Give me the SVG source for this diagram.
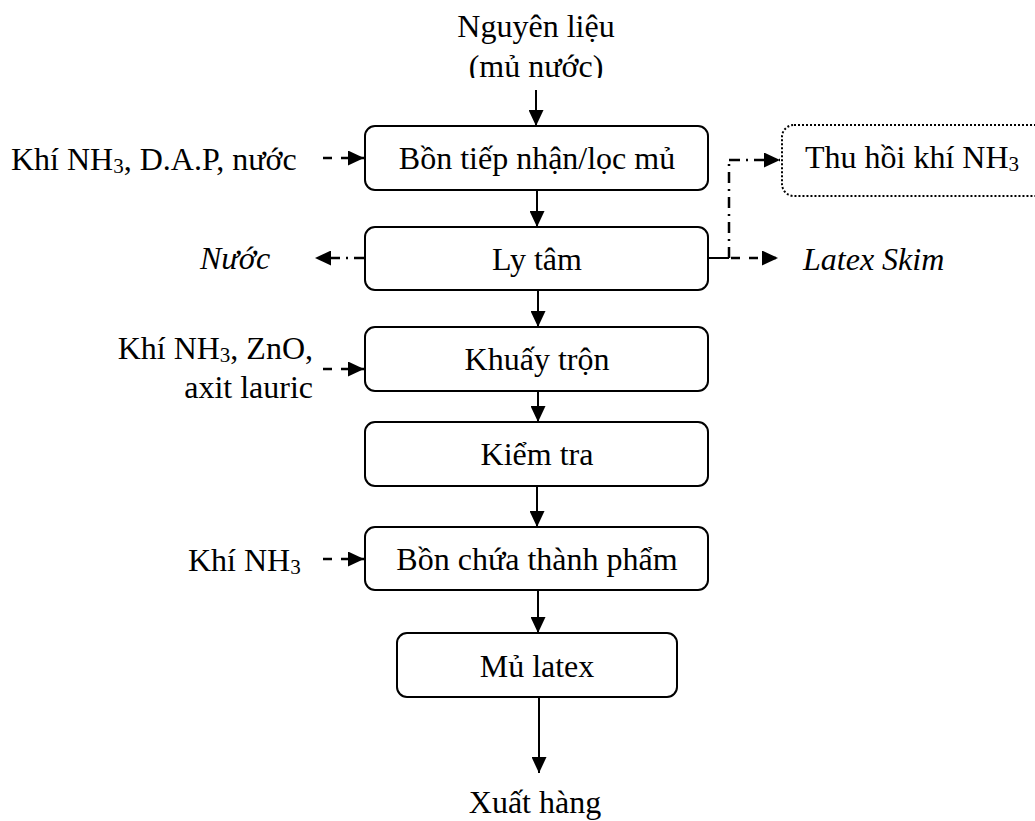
<svg xmlns="http://www.w3.org/2000/svg" width="1035" height="821" viewBox="0 0 1035 821">
  <style>
    text { font-family: "Liberation Serif", "Times New Roman", serif; font-size: 32px; fill: #000; }
    .c { text-anchor: middle; }
    .r { text-anchor: end; }
    .i { font-style: italic; }
    .sub { font-size: 21px; }
    .box { fill: #fff; stroke: #000; stroke-width: 2; }
    .dotbox { fill: #fff; stroke: #000; stroke-width: 2; stroke-dasharray: 2 2; }
    .flow { fill: none; stroke: #000; stroke-width: 2; }
    .dash { fill: none; stroke: #000; stroke-width: 2.5; stroke-dasharray: 9 9; }
    .dashdot { fill: none; stroke: #000; stroke-width: 2.5; stroke-dasharray: 11 6 2 6; }
  </style>
  <defs>
    <marker id="ah" viewBox="0 0 16 15" refX="16" refY="7.5" markerWidth="16" markerHeight="15" markerUnits="userSpaceOnUse" orient="auto">
      <path d="M0,0 L16,7.5 L0,15 z" fill="#000"/>
    </marker>
    <clipPath id="topcut">
      <rect x="0" y="0" width="1035" height="78"/>
    </clipPath>
  </defs>

  <rect width="1035" height="821" fill="#fff"/>

  <!-- source material label -->
  <g id="source">
    <text class="c" x="536" y="37">Nguyên liệu</text>
    <text class="c" x="536" y="77" clip-path="url(#topcut)">(mủ nước)</text>
  </g>

  <!-- process steps -->
  <g id="reception">
    <rect class="box" x="365" y="126" width="343" height="64" rx="10"/>
    <text class="c" x="537" y="169">Bồn tiếp nhận/lọc mủ</text>
  </g>
  <g id="centrifuge">
    <rect class="box" x="365" y="227" width="343" height="63" rx="10"/>
    <text class="c" x="537" y="270">Ly tâm</text>
  </g>
  <g id="mixing">
    <rect class="box" x="365" y="327" width="343" height="64" rx="10"/>
    <text class="c" x="537" y="370">Khuấy trộn</text>
  </g>
  <g id="inspection">
    <rect class="box" x="365" y="422" width="343" height="64" rx="10"/>
    <text class="c" x="537" y="465">Kiểm tra</text>
  </g>
  <g id="storage">
    <rect class="box" x="365" y="527" width="343" height="63" rx="10"/>
    <text class="c" x="537" y="570">Bồn chứa thành phẩm</text>
  </g>
  <g id="latex">
    <rect class="box" x="397" y="633" width="280" height="64" rx="10"/>
    <text class="c" x="537" y="677">Mủ latex</text>
  </g>
  <g id="shipping">
    <text class="c" x="535" y="813">Xuất hàng</text>
  </g>

  <!-- side inputs and outputs -->
  <g id="input-reception">
    <text x="11" y="170">Khí NH<tspan class="sub" dy="3">3</tspan><tspan dy="-3">, D.A.P, nước</tspan></text>
  </g>
  <g id="input-mixing">
    <text class="r" x="313" y="359">Khí NH<tspan class="sub" dy="3">3</tspan><tspan dy="-3">, ZnO,</tspan></text>
    <text class="r" x="313" y="398">axit lauric</text>
  </g>
  <g id="input-storage">
    <text x="188" y="571">Khí NH<tspan class="sub" dy="3">3</tspan></text>
  </g>
  <g id="water">
    <text class="i" x="200" y="269">Nước</text>
  </g>
  <g id="skim">
    <text class="i" x="803" y="270">Latex Skim</text>
  </g>
  <g id="ammonia-recovery">
    <rect class="dotbox" x="782" y="125" width="265" height="71" rx="12"/>
    <text x="805" y="168">Thu hồi khí NH<tspan class="sub" dy="3">3</tspan></text>
  </g>

  <!-- connectors -->
  <g id="connectors">
    <!-- main flow -->
    <line class="flow" x1="536" y1="90" x2="536" y2="126" marker-end="url(#ah)"/>
    <line class="flow" x1="537" y1="190" x2="537" y2="227" marker-end="url(#ah)"/>
    <line class="flow" x1="538" y1="290" x2="538" y2="327" marker-end="url(#ah)"/>
    <line class="flow" x1="538" y1="391" x2="538" y2="422" marker-end="url(#ah)"/>
    <line class="flow" x1="537" y1="486" x2="537" y2="527" marker-end="url(#ah)"/>
    <line class="flow" x1="538" y1="590" x2="538" y2="633" marker-end="url(#ah)"/>
    <line class="flow" x1="539" y1="697" x2="539" y2="773" marker-end="url(#ah)"/>

    <!-- dashed inputs -->
    <line class="dash" x1="323" y1="158" x2="364" y2="158" marker-end="url(#ah)"/>
    <line class="dash" x1="323" y1="369" x2="364" y2="369" marker-end="url(#ah)"/>
    <line class="dash" x1="323" y1="559" x2="364" y2="559" marker-end="url(#ah)"/>

    <!-- water out of the centrifuge -->
    <line class="dashdot" x1="365" y1="258" x2="315" y2="258" marker-end="url(#ah)"/>

    <!-- skim latex and ammonia recovery branch -->
    <path class="flow" d="M708,258 H729"/>
    <path class="dashdot" d="M729,258 V159"/>
    <path class="dashdot" d="M729,160 H780" marker-end="url(#ah)"/>
    <path class="dash" d="M731,258 H778" stroke-dasharray="0 10 10 10" marker-end="url(#ah)"/>
  </g>
</svg>
